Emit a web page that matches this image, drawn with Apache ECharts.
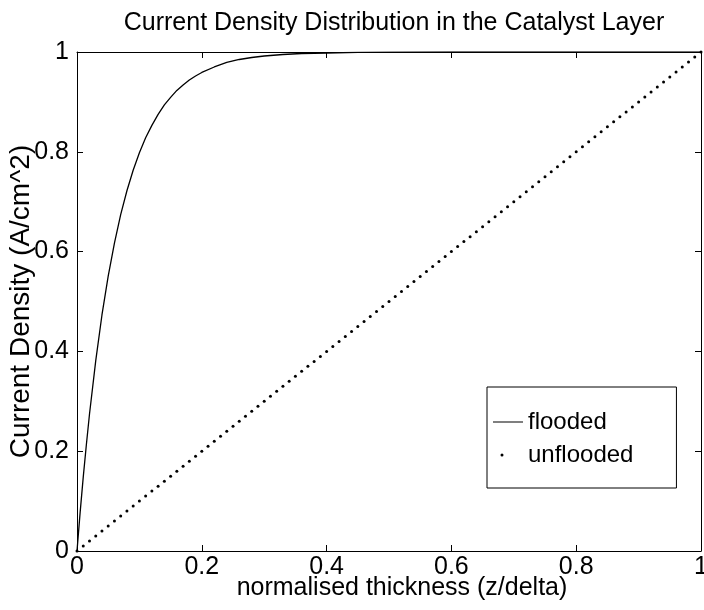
<!DOCTYPE html>
<html>
<head>
<meta charset="utf-8">
<script src="https://cdn.jsdelivr.net/npm/echarts@6/dist/echarts.min.js"></script>
<style>
  html, body { margin: 0; padding: 0; background: #fff; }
  #chart { width: 704px; height: 610px; }
</style>
</head>
<body>
<div id="chart"></div>
<script>
// Flooded electrode: current density along the catalyst layer
const floodedThickness = [0, 0.005, 0.01, 0.015, 0.02, 0.03, 0.04, 0.05, 0.06, 0.07, 0.08, 0.09, 0.10,
  0.11, 0.12, 0.13, 0.14, 0.15, 0.16, 0.17, 0.18, 0.19, 0.20, 0.22, 0.24, 0.26, 0.28, 0.30,
  0.33, 0.36, 0.40, 0.45, 0.50, 0.60, 0.70, 0.80, 0.90, 1.00];
const floodedDensity = [0, 0.077, 0.148, 0.213, 0.274, 0.381, 0.473, 0.551, 0.617, 0.674, 0.722, 0.763, 0.798,
  0.828, 0.853, 0.875, 0.894, 0.909, 0.923, 0.934, 0.944, 0.952, 0.959, 0.970, 0.979, 0.985, 0.989, 0.992,
  0.995, 0.997, 0.998, 0.9993, 0.9997, 1, 1, 1, 1, 1];

// Unflooded electrode: sampled points across the layer
const unfloodedThickness = [0, 0.01, 0.02, 0.03, 0.04, 0.05, 0.06, 0.07, 0.08, 0.09,
  0.10, 0.11, 0.12, 0.13, 0.14, 0.15, 0.16, 0.17, 0.18, 0.19,
  0.20, 0.21, 0.22, 0.23, 0.24, 0.25, 0.26, 0.27, 0.28, 0.29,
  0.30, 0.31, 0.32, 0.33, 0.34, 0.35, 0.36, 0.37, 0.38, 0.39,
  0.40, 0.41, 0.42, 0.43, 0.44, 0.45, 0.46, 0.47, 0.48, 0.49,
  0.50, 0.51, 0.52, 0.53, 0.54, 0.55, 0.56, 0.57, 0.58, 0.59,
  0.60, 0.61, 0.62, 0.63, 0.64, 0.65, 0.66, 0.67, 0.68, 0.69,
  0.70, 0.71, 0.72, 0.73, 0.74, 0.75, 0.76, 0.77, 0.78, 0.79,
  0.80, 0.81, 0.82, 0.83, 0.84, 0.85, 0.86, 0.87, 0.88, 0.89,
  0.90, 0.91, 0.92, 0.93, 0.94, 0.95, 0.96, 0.97, 0.98, 0.99, 1.00];
const unfloodedDensity = [0, 0.01, 0.02, 0.03, 0.04, 0.05, 0.06, 0.07, 0.08, 0.09,
  0.10, 0.11, 0.12, 0.13, 0.14, 0.15, 0.16, 0.17, 0.18, 0.19,
  0.20, 0.21, 0.22, 0.23, 0.24, 0.25, 0.26, 0.27, 0.28, 0.29,
  0.30, 0.31, 0.32, 0.33, 0.34, 0.35, 0.36, 0.37, 0.38, 0.39,
  0.40, 0.41, 0.42, 0.43, 0.44, 0.45, 0.46, 0.47, 0.48, 0.49,
  0.50, 0.51, 0.52, 0.53, 0.54, 0.55, 0.56, 0.57, 0.58, 0.59,
  0.60, 0.61, 0.62, 0.63, 0.64, 0.65, 0.66, 0.67, 0.68, 0.69,
  0.70, 0.71, 0.72, 0.73, 0.74, 0.75, 0.76, 0.77, 0.78, 0.79,
  0.80, 0.81, 0.82, 0.83, 0.84, 0.85, 0.86, 0.87, 0.88, 0.89,
  0.90, 0.91, 0.92, 0.93, 0.94, 0.95, 0.96, 0.97, 0.98, 0.99, 1.00];

const xTicks = [0, 0.2, 0.4, 0.6, 0.8, 1];
const yTicks = [0, 0.2, 0.4, 0.6, 0.8, 1];

const FONT = "'Liberation Sans', Arial, Helvetica, sans-serif";
const INK = '#000';

function pairs(xs, ys) { return xs.map((x, i) => [x, ys[i]]); }
function tickText(v) { return String(Math.round(v * 10) / 10); }

// legend glyphs: the tiny corner squares pin the icon box to 30x10
const LINE_ICON = 'path://M0,4.4H30V5.6H0Z M0,0h0.01v0.01h-0.01Z M29.99,9.99h0.01v0.01h-0.01Z';
const DOT_ICON = 'path://M7.5,5a1.5,1.5 0 1,0 3,0a1.5,1.5 0 1,0 -3,0Z M0,0h0.01v0.01h-0.01Z M29.99,9.99h0.01v0.01h-0.01Z';

const axisCommon = {
  type: 'value', min: 0, max: 1, interval: 0.2,
  axisLine: { show: true, onZero: false, lineStyle: { color: INK, width: 1 } },
  axisTick: { show: true, inside: true, length: 6, lineStyle: { color: INK, width: 1 } },
  splitLine: { show: false }
};

const chart = echarts.init(document.getElementById('chart'), null, { renderer: 'canvas' });
chart.setOption({
  backgroundColor: '#fff',
  animation: false,
  title: {
    text: 'Current Density Distribution in the Catalyst Layer',
    left: 389, top: 6, textAlign: 'center',
    textStyle: { fontFamily: FONT, fontSize: 25, fontWeight: 'normal', color: INK }
  },
  grid: { left: 77, right: 3, top: 52, bottom: 59, outerBoundsMode: 'none', containLabel: false },
  legend: {
    orient: 'vertical', left: 487, top: 387,
    padding: [23, 43, 21, 6],
    itemWidth: 30, itemHeight: 10, itemGap: 9,
    borderColor: INK, borderWidth: 1, backgroundColor: '#fff',
    selectedMode: false,
    textStyle: { fontFamily: FONT, fontSize: 24, color: INK },
    data: [
      { name: 'flooded', icon: LINE_ICON, itemStyle: { color: INK } },
      { name: 'unflooded', icon: DOT_ICON, itemStyle: { color: INK } }
    ]
  },
  xAxis: [
    Object.assign({}, axisCommon, {
      position: 'bottom',
      name: 'normalised thickness (z/delta)', nameLocation: 'middle', nameGap: 25,
      nameMoveOverlap: false,
      nameTextStyle: { fontFamily: FONT, fontSize: 25, color: INK, padding: [0, 0, 0, 26] },
      axisLabel: { show: true, margin: 4, fontFamily: FONT, fontSize: 25, color: INK,
        formatter: (v) => xTicks.some(t => Math.abs(t - v) < 1e-9) ? tickText(v) : '' }
    }),
    Object.assign({}, axisCommon, { position: 'top', axisLabel: { show: false } })
  ],
  yAxis: [
    Object.assign({}, axisCommon, {
      position: 'left',
      name: 'Current Density (A/cm^2)', nameLocation: 'middle', nameGap: 42,
      nameMoveOverlap: false,
      nameTextStyle: { fontFamily: FONT, fontSize: 28, color: INK },
      axisLabel: { show: true, margin: 8, fontFamily: FONT, fontSize: 25, color: INK,
        formatter: (v) => yTicks.some(t => Math.abs(t - v) < 1e-9) ? tickText(v) : '' }
    }),
    Object.assign({}, axisCommon, { position: 'right', axisLabel: { show: false } })
  ],
  series: [
    {
      name: 'flooded', type: 'line', xAxisIndex: 0, yAxisIndex: 0,
      data: pairs(floodedThickness, floodedDensity),
      showSymbol: false, symbol: 'none', smooth: false,
      lineStyle: { color: INK, width: 1.3 },
      itemStyle: { color: INK }
    },
    {
      name: 'unflooded', type: 'line', xAxisIndex: 0, yAxisIndex: 0,
      data: pairs(unfloodedThickness, unfloodedDensity),
      symbol: 'circle', symbolSize: 3, showSymbol: true, showAllSymbol: true,
      lineStyle: { width: 0, opacity: 0 },
      itemStyle: { color: INK }
    }
  ]
});
</script>
</body>
</html>
